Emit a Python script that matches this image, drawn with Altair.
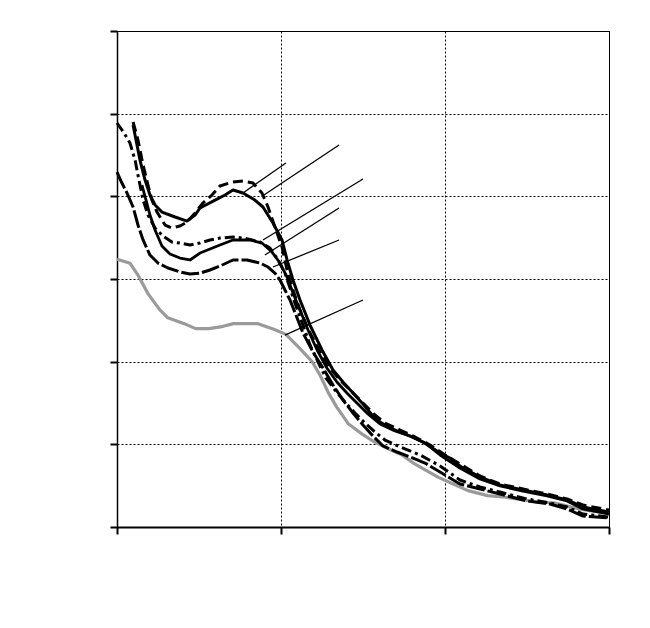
import altair as alt
import pandas as pd

# ---- series (x: 0..3, y: 0..6) ----
gray_x = [0.00, 0.08, 0.13, 0.19, 0.26, 0.31, 0.41, 0.48, 0.56, 0.63, 0.71, 0.86, 0.96, 1.03,
          1.11, 1.19, 1.24, 1.29, 1.34, 1.41, 1.49, 1.56, 1.66, 1.74, 1.81, 1.89, 1.96, 2.04,
          2.14, 2.26, 2.37, 2.47, 2.57, 2.67, 2.77, 2.87, 2.99]
gray_y = [3.24, 3.19, 3.04, 2.82, 2.63, 2.53, 2.46, 2.40, 2.40, 2.42, 2.46, 2.46, 2.39, 2.33,
          2.17, 2.00, 1.83, 1.62, 1.45, 1.25, 1.13, 1.04, 0.94, 0.87, 0.77, 0.68, 0.60, 0.53,
          0.44, 0.38, 0.36, 0.33, 0.30, 0.29, 0.24, 0.20, 0.17]

ts_x = [0.098, 0.122, 0.140, 0.171, 0.201, 0.232, 0.274, 0.354, 0.427, 0.476, 0.506, 0.598,
        0.659, 0.707, 0.768, 0.841, 0.890, 0.951, 1.006, 1.037, 1.073, 1.116, 1.177, 1.250,
        1.317, 1.378, 1.439, 1.500, 1.555, 1.604, 1.665, 1.726, 1.799, 1.866, 1.970, 2.030,
        2.091, 2.213, 2.335, 2.476, 2.622, 2.744, 2.841, 3.000]
ts_y = [4.863, 4.621, 4.439, 4.197, 4.016, 3.895, 3.810, 3.750, 3.701, 3.774, 3.859, 3.955,
        4.016, 4.076, 4.040, 3.955, 3.871, 3.677, 3.472, 3.230, 2.988, 2.746, 2.443, 2.141,
        1.899, 1.754, 1.621, 1.488, 1.355, 1.270, 1.198, 1.149, 1.089, 1.028, 0.895, 0.835,
        0.738, 0.605, 0.508, 0.448, 0.387, 0.327, 0.242, 0.181]

td_x = [0.098, 0.128, 0.159, 0.189, 0.213, 0.244, 0.293, 0.335, 0.384, 0.427, 0.476, 0.524,
        0.579, 0.628, 0.701, 0.768, 0.829, 0.884, 0.921, 0.963, 1.006, 1.037, 1.073, 1.116,
        1.177, 1.238, 1.299, 1.360, 1.421, 1.500, 1.573, 1.634, 1.726, 1.817, 1.909, 2.000,
        2.091, 2.213, 2.335, 2.476, 2.622, 2.744, 2.841, 3.000]
td_y = [4.899, 4.681, 4.379, 4.137, 3.955, 3.810, 3.653, 3.617, 3.641, 3.689, 3.798, 3.919,
        4.016, 4.125, 4.173, 4.185, 4.161, 4.040, 3.871, 3.629, 3.387, 3.109, 2.867, 2.625,
        2.347, 2.117, 1.923, 1.778, 1.657, 1.500, 1.355, 1.258, 1.173, 1.089, 0.992, 0.871,
        0.762, 0.617, 0.520, 0.460, 0.399, 0.339, 0.266, 0.206]

ms_x = [0.152, 0.177, 0.201, 0.232, 0.274, 0.323, 0.384, 0.445, 0.506, 0.567, 0.628, 0.707,
        0.811, 0.884, 0.945, 0.994, 1.037, 1.073, 1.116, 1.165, 1.220, 1.280, 1.341, 1.402,
        1.463, 1.530, 1.604, 1.695, 1.787, 1.878, 1.970, 2.091, 2.213, 2.335, 2.476, 2.622,
        2.744, 2.841, 3.000]
ms_y = [4.137, 3.955, 3.774, 3.593, 3.399, 3.302, 3.254, 3.230, 3.314, 3.363, 3.411, 3.472,
        3.472, 3.435, 3.326, 3.193, 3.024, 2.831, 2.625, 2.383, 2.141, 1.923, 1.754, 1.621,
        1.500, 1.367, 1.246, 1.161, 1.101, 1.016, 0.871, 0.714, 0.581, 0.496, 0.435, 0.375,
        0.315, 0.218, 0.157]

md_x = [0.000, 0.043, 0.079, 0.110, 0.134, 0.159, 0.189, 0.232, 0.280, 0.335, 0.384, 0.445,
        0.506, 0.567, 0.628, 0.707, 0.768, 0.823, 0.872, 0.933, 0.982, 1.024, 1.055, 1.085,
        1.134, 1.177, 1.226, 1.274, 1.329, 1.390, 1.451, 1.512, 1.573, 1.634, 1.726, 1.848,
        1.970, 2.091, 2.213, 2.335, 2.500, 2.640, 2.744, 2.841, 3.000]
md_y = [4.887, 4.766, 4.645, 4.439, 4.197, 3.955, 3.774, 3.617, 3.520, 3.447, 3.435, 3.411,
        3.435, 3.472, 3.496, 3.508, 3.496, 3.472, 3.447, 3.375, 3.230, 3.072, 2.891, 2.709,
        2.443, 2.202, 1.996, 1.802, 1.657, 1.512, 1.379, 1.258, 1.149, 1.052, 0.968, 0.871,
        0.738, 0.569, 0.484, 0.423, 0.339, 0.290, 0.242, 0.157, 0.121]

lo_x = [0.000, 0.030, 0.061, 0.098, 0.128, 0.159, 0.201, 0.250, 0.311, 0.384, 0.445, 0.506,
        0.567, 0.628, 0.707, 0.793, 0.872, 0.921, 0.963, 0.994, 1.024, 1.055, 1.091, 1.134,
        1.195, 1.256, 1.317, 1.378, 1.439, 1.500, 1.561, 1.622, 1.707, 1.787, 1.878, 1.970,
        2.091, 2.213, 2.335, 2.500, 2.640, 2.744, 2.841, 3.000]
lo_y = [4.294, 4.161, 4.040, 3.871, 3.653, 3.472, 3.290, 3.193, 3.133, 3.085, 3.060, 3.072,
        3.109, 3.157, 3.230, 3.230, 3.193, 3.145, 3.072, 2.988, 2.867, 2.746, 2.564, 2.347,
        2.117, 1.923, 1.718, 1.536, 1.379, 1.234, 1.101, 0.980, 0.907, 0.847, 0.774, 0.665,
        0.520, 0.460, 0.399, 0.315, 0.278, 0.218, 0.133, 0.109]

# leader lines (annotation pointers, labels absent in the reference)
lead_x1 = [0.768, 0.896, 0.890, 0.902, 0.951, 1.024]
lead_y1 = [4.040, 4.016, 3.472, 3.290, 3.145, 2.322]
lead_x2 = [1.030, 1.354, 1.500, 1.354, 1.354, 1.500]
lead_y2 = [4.403, 4.621, 4.209, 3.859, 3.472, 2.746]

x_ticks = [0, 1, 2, 3]
y_ticks = [0, 1, 2, 3, 4, 5, 6]

xs = alt.Scale(domain=[0, 3], nice=False, zero=False)
ys = alt.Scale(domain=[0, 6], nice=False, zero=False)

x_axis = alt.Axis(values=x_ticks, labels=False, title=None, grid=True, gridDash=[2, 2],
                  gridColor="black", gridOpacity=1, gridWidth=1, tickSize=7, tickWidth=2,
                  tickColor="black", domainColor="black", domainWidth=2)
y_axis = alt.Axis(values=y_ticks, labels=False, title=None, grid=True, gridDash=[2, 2],
                  gridColor="black", gridOpacity=1, gridWidth=1, tickSize=7, tickWidth=2,
                  tickColor="black", domainColor="black", domainWidth=1.5)


def line_layer(xv, yv, color, width, dash=None):
    df = pd.DataFrame({"x": xv, "y": yv, "i": list(range(len(xv)))})
    kw = dict(color=color, strokeWidth=width, strokeJoin="round", strokeCap="butt")
    if dash:
        kw["strokeDash"] = dash
    return alt.Chart(df).mark_line(**kw).encode(
        x=alt.X("x:Q", scale=xs, axis=x_axis),
        y=alt.Y("y:Q", scale=ys, axis=y_axis),
        order="i:Q",
    )


layers = [
    line_layer(gray_x, gray_y, "#9a9a9a", 3.2),
    line_layer(lo_x, lo_y, "black", 3, [18, 3]),
    line_layer(md_x, md_y, "black", 3, [10, 4, 3, 4]),
    line_layer(ms_x, ms_y, "black", 2.8),
    line_layer(td_x, td_y, "black", 3, [10, 5]),
    line_layer(ts_x, ts_y, "black", 3),
]

lead_df = pd.DataFrame({"x": lead_x1, "y": lead_y1, "x2": lead_x2, "y2": lead_y2})
leaders = alt.Chart(lead_df).mark_rule(color="black", strokeWidth=1.3).encode(
    x=alt.X("x:Q", scale=xs, axis=x_axis),
    y=alt.Y("y:Q", scale=ys, axis=y_axis),
    x2="x2:Q",
    y2="y2:Q",
)

chart = alt.layer(*layers, leaders).properties(
    width=492,
    height=496,
    padding={"left": 109, "top": 23, "right": 33, "bottom": 93},
    autosize="none",
    background="white",
).configure_view(stroke="black", strokeWidth=1)

chart.save("out.html", embed_options={"renderer": "svg", "actions": False})
